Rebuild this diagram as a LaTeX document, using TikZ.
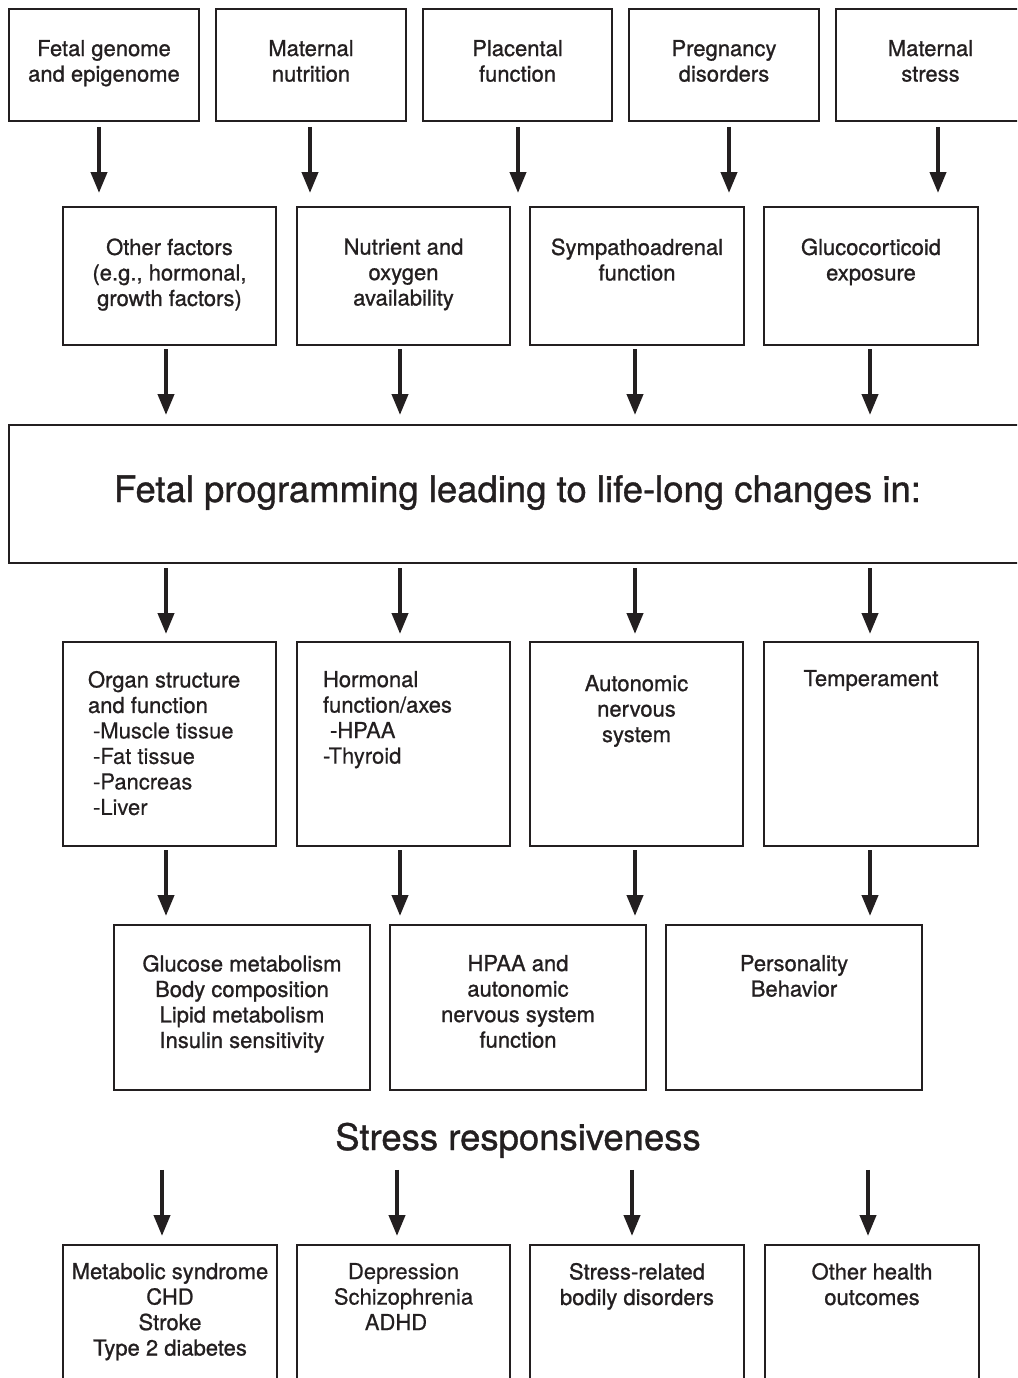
\documentclass[tikz,border=0pt]{standalone}
\usepackage{fontspec}
\setmainfont{TeX Gyre Heros}
\newfontfamily\medfont[FakeBold=1.0]{TeX Gyre Heros}
\newfontfamily\regfont[FakeBold=0.4]{TeX Gyre Heros}
\usetikzlibrary{arrows.meta,calc}
\definecolor{ink}{RGB}{35,31,32}
\begin{document}
\begin{tikzpicture}[x=1pt,y=-1pt,
  box/.style={draw=ink,line width=2.5pt,inner sep=0pt,outer sep=0pt},
  txt/.style={text=ink,inner sep=0pt,outer sep=0pt,align=center,font=\medfont\fontsize{22}{25.5}\selectfont},
  bigtxt/.style={text=ink,inner sep=0pt,outer sep=0pt,font=\medfont\fontsize{36.5}{40}\selectfont},
  arr/.style={draw=ink,line width=4pt,-{Triangle[width=16pt,length=21pt]}}]
\useasboundingbox (0,0) rectangle (1017,1378);
\clip (0,0) rectangle (1017,1378);

% top row
\node[box,minimum width=190pt,minimum height=112pt] (t1) at (104,65) {};
\node[box,minimum width=190pt,minimum height=112pt] (t2) at (311,65) {};
\node[box,minimum width=189pt,minimum height=112pt] (t3) at (517.5,65) {};
\node[box,minimum width=190pt,minimum height=112pt] (t4) at (724,65) {};
\node[box,minimum width=189pt,minimum height=112pt] (t5) at (930.5,65) {};
\node[txt,anchor=north] (t1x) at ([yshift=-31pt]t1.north) {Fetal genome\\and epigenome};
\node[txt,anchor=north] (t2x) at ([yshift=-31pt]t2.north) {Maternal\\nutrition};
\node[txt,anchor=north] (t3x) at ([yshift=-31pt]t3.north) {Placental\\function};
\node[txt,anchor=north] (t4x) at ([yshift=-31pt]t4.north) {Pregnancy\\disorders};
\node[txt,anchor=north] (t5x) at ([yshift=-31pt]t5.north) {Maternal\\stress};

% second row
\node[box,minimum width=213pt,minimum height=138pt] (r2a) at (169.5,276) {};
\node[box,minimum width=213pt,minimum height=138pt] (r2b) at (403.5,276) {};
\node[box,minimum width=214pt,minimum height=138pt] (r2c) at (637,276) {};
\node[box,minimum width=214pt,minimum height=138pt] (r2d) at (871,276) {};
\node[txt,anchor=north] (r2ax) at ([yshift=-31.5pt]r2a.north) {Other factors\\(e.g., hormonal,\\growth factors)};
\node[txt,anchor=north] (r2bx) at ([yshift=-31.5pt]r2b.north) {Nutrient and\\oxygen\\availability};
\node[txt,anchor=north] (r2cx) at ([yshift=-31.5pt]r2c.north) {Sympathoadrenal\\function};
\node[txt,anchor=north] (r2dx) at ([yshift=-31.5pt]r2d.north) {Glucocorticoid\\exposure};

% big box
\node[box,minimum width=1017pt,minimum height=138pt] (bigbox) at (517.5,494) {};
\node[bigtxt,anchor=base] (bigx) at (517.5,502) {Fetal programming leading to life-long changes in:};

% third row
\node[box,minimum width=213pt,minimum height=204pt] (r3a) at (169.5,744) {};
\node[box,minimum width=213pt,minimum height=204pt] (r3b) at (403.5,744) {};
\node[box,minimum width=213pt,minimum height=204pt] (r3c) at (636.5,744) {};
\node[box,minimum width=214pt,minimum height=204pt] (r3d) at (871,744) {};
\node[txt,align=left,anchor=north west] (r3ax) at ([shift={(25pt,-29pt)}]r3a.north west)
  {Organ structure\\and function\\{\regfont\hspace*{5pt}-Muscle tissue}\\{\regfont\hspace*{5pt}-Fat tissue}\\{\regfont\hspace*{5pt}-Pancreas}\\{\regfont\hspace*{5pt}-Liver}};
\node[txt,align=left,anchor=north west] (r3bx) at ([shift={(26pt,-29pt)}]r3b.north west)
  {Hormonal\\function/axes\\{\regfont\hspace*{7pt}-HPAA}\\{\regfont -Thyroid}};
\node[txt,anchor=north] (r3cx) at ([yshift=-33pt]r3c.north) {Autonomic\\nervous\\system};
\node[txt,anchor=north] (r3dx) at ([yshift=-28pt]r3d.north) {Temperament};

% fourth row
\node[box,minimum width=256pt,minimum height=165pt] (r4a) at (242,1007.5) {};
\node[box,minimum width=256pt,minimum height=165pt] (r4b) at (518,1007.5) {};
\node[box,minimum width=256pt,minimum height=165pt] (r4c) at (794,1007.5) {};
\node[txt,anchor=north] (r4ax) at ([yshift=-30pt]r4a.north) {Glucose metabolism\\Body composition\\Lipid metabolism\\Insulin sensitivity};
\node[txt,anchor=north] (r4bx) at ([yshift=-30pt]r4b.north) {HPAA and\\autonomic\\nervous system\\function};
\node[txt,anchor=north] (r4cx) at ([yshift=-30pt]r4c.north) {Personality\\Behavior};

\node[bigtxt,anchor=base] (stress) at (518,1150) {Stress responsiveness};

% fifth row
\node[box,minimum width=214pt,minimum height=200pt] (r5a) at (170,1345) {};
\node[box,minimum width=213pt,minimum height=200pt] (r5b) at (403.5,1345) {};
\node[box,minimum width=214pt,minimum height=200pt] (r5c) at (637,1345) {};
\node[box,minimum width=214pt,minimum height=200pt] (r5d) at (872,1345) {};
\node[txt,anchor=north] (r5ax) at ([yshift=-18pt]r5a.north) {Metabolic syndrome\\CHD\\Stroke\\Type 2 diabetes};
\node[txt,anchor=north,font=\regfont\fontsize{22}{25.5}\selectfont] (r5bx) at ([yshift=-18pt]r5b.north) {Depression\\Schizophrenia\\ADHD\hspace*{15pt}};
\node[txt,anchor=north] (r5cx) at ([yshift=-18pt]r5c.north) {Stress-related\\bodily disorders};
\node[txt,anchor=north] (r5dx) at ([yshift=-18pt]r5d.north) {Other health\\outcomes};

% arrows row 1 -> row 2
\draw[arr] ($(t1.south)+(-5pt,-6pt)$) -- ($(t1.south |- r2a.north)+(-5pt,14pt)$);
\draw[arr] ($(t2.south)+(-1pt,-6pt)$) -- ($(t2.south |- r2a.north)+(-1pt,14pt)$);
\draw[arr] ($(t3.south)+(0.5pt,-6pt)$) -- ($(t3.south |- r2a.north)+(0.5pt,14pt)$);
\draw[arr] ($(t4.south)+(5pt,-6pt)$) -- ($(t4.south |- r2a.north)+(5pt,14pt)$);
\draw[arr] ($(t5.south)+(7.5pt,-6pt)$) -- ($(t5.south |- r2a.north)+(7.5pt,14pt)$);

% arrows row 2 -> big box
\foreach \n/\dx in {r2a/-3.5,r2b/-3.5,r2c/-2,r2d/-1}{
  \draw[arr] ($(\n.south)+(\dx pt,-4pt)$) -- ($(\n.south |- bigbox.north)+(\dx pt,10pt)$);
}
% arrows big box -> row 3
\foreach \n/\dx in {r3a/-3.5,r3b/-3.5,r3c/-1.5,r3d/-1}{
  \draw[arr] ($(\n.north |- bigbox.south)+(\dx pt,-5pt)$) -- ($(\n.north)+(\dx pt,8pt)$);
}
% arrows row 3 -> row 4
\foreach \n/\dx in {r3a/-3.5,r3b/-3.5,r3c/-1.5,r3d/-1}{
  \draw[arr] ($(\n.south)+(\dx pt,-4pt)$) -- ($(\n.south |- r4a.north)+(\dx pt,9pt)$);
}
% arrows stress responsiveness -> row 5
\foreach \n/\dx in {r5a/-8,r5b/-6.5,r5c/-5,r5d/-4}{
  \draw[arr] ($(\n.north |- stress.south)+(\dx pt,-12pt)$) -- ($(\n.north)+(\dx pt,9pt)$);
}
\end{tikzpicture}
\end{document}
